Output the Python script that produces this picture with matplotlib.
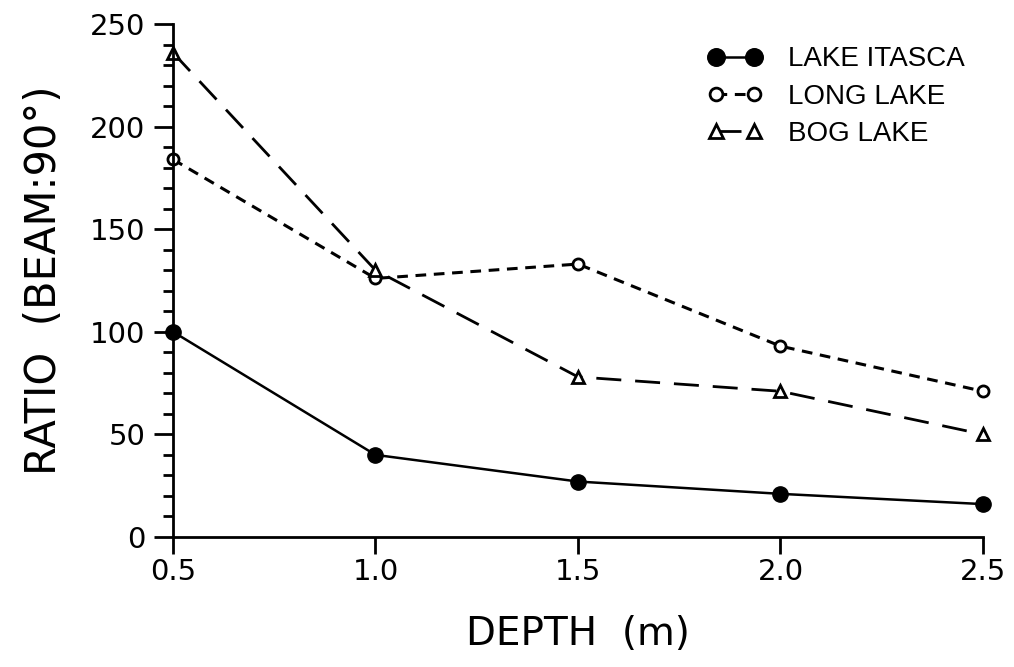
import numpy as np
from matplotlib import pyplot as plt
from matplotlib.ticker import MultipleLocator

plt.rcParams['font.family'] = ['DejaVu Sans']

depth = [0.5, 1.0, 1.5, 2.0, 2.5]
itasca = [100, 40, 27, 21, 16]
long_lake = [184, 126, 133, 93, 71]
bog_lake = [236, 130, 78, 71, 50]

fig = plt.figure(figsize=(10.14, 6.67), dpi=100)
ax = fig.add_axes([0.1706, 0.195, 0.7988, 0.769])

ax.plot(depth, itasca, color='black', lw=1.8, marker='o', ms=11,
        mfc='black', mec='black', clip_on=False, label='LAKE ITASCA')
ax.plot(depth, long_lake, color='black', lw=2.2, dashes=(3.5, 2.5),
        marker='o', ms=8, mfc='white', mec='black', mew=2,
        clip_on=False, label='LONG LAKE')
ax.plot(depth, bog_lake, color='black', lw=2.0, dashes=(9, 5),
        marker='^', ms=9, mfc='white', mec='black', mew=2,
        clip_on=False, label='BOG LAKE')

ax.set_xlim(0.5, 2.5)
ax.set_ylim(0, 250)
ax.set_xticks(depth)
ax.set_xticklabels(['0.5', '1.0', '1.5', '2.0', '2.5'])
ax.yaxis.set_major_locator(MultipleLocator(50))
ax.yaxis.set_minor_locator(MultipleLocator(10))

for s in ['top', 'right']:
    ax.spines[s].set_visible(False)
for s in ['left', 'bottom']:
    ax.spines[s].set_linewidth(2)

ax.tick_params(axis='x', direction='out', length=12, width=2, labelsize=21, pad=3)
ax.tick_params(axis='y', which='major', direction='out', length=14, width=2,
               labelsize=21, pad=6)
ax.tick_params(axis='y', which='minor', direction='out', length=7.5, width=2)

ax.set_xlabel('DEPTH  (m)', fontsize=28, labelpad=21)
ax.set_ylabel('RATIO  (BEAM:90°)', fontsize=30, labelpad=18)

leg = ax.legend(loc='upper right', bbox_to_anchor=(0.991, 0.978), frameon=False,
                prop={'family': 'Liberation Sans', 'size': 20}, numpoints=2,
                handlelength=2.0, handletextpad=0.9, labelspacing=0.4,
                borderaxespad=0.0, markerscale=1.15)

fig.savefig('out.png', dpi=100)
